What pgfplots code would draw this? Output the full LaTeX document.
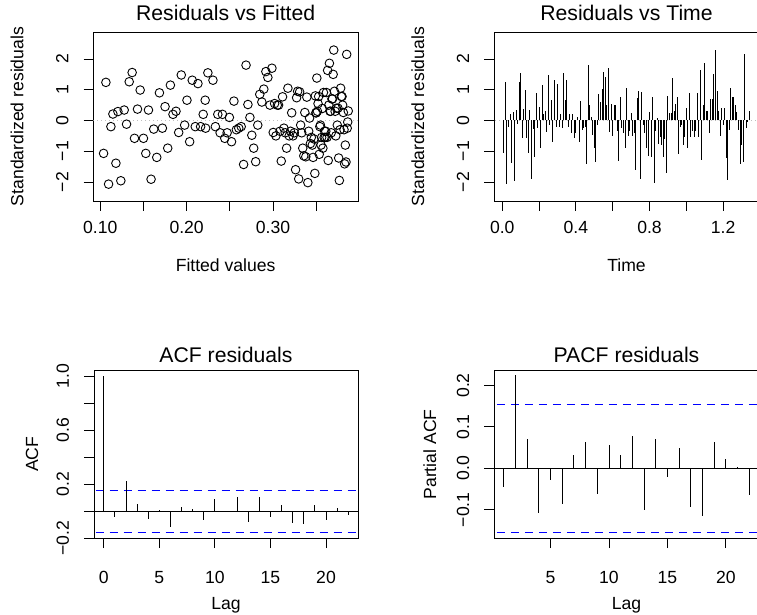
\documentclass[border=0pt]{standalone}
\usepackage{fontspec}
\setmainfont{Liberation Sans}
\usepackage{pgfplots}
\pgfplotsset{compat=1.18}
\usepackage{pgfplotstable}
\definecolor{rblue}{RGB}{0,0,255}
\definecolor{rgray}{RGB}{190,190,190}

\pgfplotstableread{
i fit res
1 0.1038 -1.07
2 0.1065 1.24
3 0.1096 -2.07
4 0.1123 -0.20
5 0.1146 0.21
6 0.1181 -1.39
7 0.1204 0.29
8 0.1238 -1.96
9 0.1277 0.34
10 0.1304 -0.12
11 0.1335 1.26
12 0.1369 1.56
13 0.1396 -0.58
14 0.1431 0.37
15 0.1462 0.99
16 0.1500 -0.58
17 0.1527 -1.07
18 0.1558 0.34
19 0.1588 -1.91
20 0.1619 -0.28
21 0.1654 -1.20
22 0.1685 0.90
23 0.1719 -0.25
24 0.1750 0.45
25 0.1781 -0.90
26 0.1812 1.15
27 0.1842 0.20
28 0.1877 0.30
29 0.1908 -0.39
30 0.1938 1.48
31 0.1977 -0.15
32 0.2004 0.66
33 0.2035 -0.69
34 0.2065 1.31
35 0.2100 -0.20
36 0.2131 1.20
37 0.2162 -0.20
38 0.2192 0.20
39 0.2220 -0.25
40 0.2246 1.55
41 0.2215 0.66
42 0.2305 1.31
43 0.2333 -0.20
44 0.2361 0.20
45 0.2388 -0.40
46 0.2415 0.20
47 0.2442 -0.58
48 0.2469 -0.40
49 0.2495 0.10
50 0.2520 -0.69
51 0.2548 0.63
52 0.2576 -0.30
53 0.2604 -0.25
54 0.2632 -0.20
55 0.2660 -1.43
56 0.2688 1.80
57 0.2710 0.52
58 0.2733 0.10
59 0.2755 -0.48
60 0.2777 -0.90
61 0.2800 -1.34
62 0.2824 -0.15
63 0.2847 0.85
64 0.2871 0.60
65 0.2894 1.02
66 0.2918 1.59
67 0.2941 1.40
68 0.2965 0.50
69 0.2988 1.70
70 0.3003 -0.39
71 0.3019 0.55
72 0.3034 -0.50
73 0.3050 0.50
74 0.3065 0.50
75 0.3081 -0.35
76 0.3096 -1.32
77 0.3111 0.77
78 0.3127 -0.25
79 0.3142 -0.40
80 0.3158 -0.90
81 0.3173 1.05
82 0.3188 -0.50
83 0.3203 -0.35
84 0.3217 0.25
85 0.3232 -0.50
86 0.3247 -0.40
87 0.3262 -1.60
88 0.3274 0.74
89 0.3286 0.95
90 0.3298 -1.90
91 0.3309 0.93
92 0.3321 -0.15
93 0.3333 -0.40
94 0.3345 -0.90
95 0.3357 -1.15
96 0.3369 0.26
97 0.3380 -1.18
98 0.3392 0.76
99 0.3404 -2.02
100 0.3414 -0.35
101 0.3424 0.08
102 0.3434 -0.75
103 0.3444 -0.55
104 0.3455 -0.80
105 0.3465 -1.20
106 0.3475 -0.60
107 0.3485 -1.72
108 0.3491 0.80
109 0.3497 0.25
110 0.3502 0.25
111 0.3508 1.38
112 0.3515 0.30
113 0.3522 0.55
114 0.3529 0.78
115 0.3536 -1.10
116 0.3543 -0.20
117 0.3550 -0.15
118 0.3557 -0.80
119 0.3564 -0.55
120 0.3571 0.39
121 0.3578 -0.90
122 0.3585 0.91
123 0.3592 -0.55
124 0.3599 -0.35
125 0.3605 -0.55
126 0.3612 -0.35
127 0.3619 0.91
128 0.3626 -0.55
129 0.3633 1.63
130 0.3640 -1.30
131 0.3647 0.50
132 0.3654 1.86
133 0.3661 0.30
134 0.3668 0.30
135 0.3675 -0.40
136 0.3683 0.70
137 0.3690 0.70
138 0.3697 1.50
139 0.3704 2.29
140 0.3712 0.95
141 0.3720 0.30
142 0.3728 -0.50
143 0.3736 0.40
144 0.3745 -0.15
145 0.3753 0.40
146 0.3761 -1.22
147 0.3769 -1.95
148 0.3777 -0.30
149 0.3784 1.05
150 0.3792 0.78
151 0.3800 0.78
152 0.3807 0.50
153 0.3815 0.26
154 0.3823 -0.30
155 0.3830 -1.41
156 0.3838 -0.80
157 0.3846 -1.35
158 0.3854 2.15
159 0.3860 -0.25
160 0.3866 -0.05
161 0.3872 0.31
}\resid

\pgfplotstableread{
lag acf
0 1.000
1 -0.044
2 0.227
3 0.057
4 -0.059
5 0.012
6 -0.114
7 0.030
8 0.017
9 -0.062
10 0.094
11 0.002
12 0.106
13 -0.081
14 0.106
15 -0.044
16 0.049
17 -0.086
18 -0.096
19 0.047
20 -0.067
21 0.025
22 -0.025
}\acftab

\pgfplotstableread{
lag pacf
1 -0.045
2 0.225
3 0.072
4 -0.109
5 -0.029
6 -0.085
7 0.033
8 0.063
9 -0.063
10 0.056
11 0.033
12 0.077
13 -0.100
14 0.072
15 -0.020
16 0.050
17 -0.094
18 -0.115
19 0.063
20 0.023
21 0.003
22 -0.064
}\pacftab

\pgfplotsset{
  rstyle/.style={
    scale only axis,
    axis line style={black, line width=0.9pt},
    tick style={black, line width=0.9pt},
    major tick length=9.6pt,
    tick align=outside,
    xtick pos=left, ytick pos=left,
    scaled x ticks=false, scaled y ticks=false,
    font=\fontsize{17.6}{21}\selectfont,
    xticklabel style={yshift=-23.4pt, anchor=base, inner sep=0pt},
    yticklabel style={xshift=-15.4pt, rotate=90, anchor=base, inner sep=0pt},
    title style={anchor=base, font=\fontsize{21.2}{25}\selectfont},
    xlabel style={anchor=base},
    ylabel style={anchor=base},
  }
}

\begin{document}
\begin{tikzpicture}
\useasboundingbox (0pt,0pt) rectangle (757pt,615pt);

% Residuals vs Fitted
\begin{axis}[rstyle,
  at={(93.3pt,414pt)}, anchor=south west, width=264.7pt, height=169pt,
  xmin=0.0919, xmax=0.3985, ymin=-2.618, ymax=2.878,
  xtick={0.10,0.15,0.20,0.25,0.30,0.35},
  xticklabels={0.10,,0.20,,0.30,},
  ytick={-2,-1,0,1,2},
  yticklabels={−2,−1,0,1,2},
  title={Residuals vs Fitted},
  title style={at={([yshift=5pt]axis description cs:0.5,1)}, anchor=base},
  xlabel={Fitted values},
  xlabel style={at={([yshift=-71pt]axis description cs:0.5,0)}},
  ylabel={Standardized residuals},
  ylabel style={at={([xshift=-70pt]axis description cs:0,0.5)}},
]
\addplot[rgray, dash pattern=on 1pt off 3pt, line width=0.9pt] coordinates {(0.05,0) (0.45,0)};
\addplot[only marks, mark=o, mark size=4.3pt, black, mark options={line width=0.9pt}] table[x=fit, y=res]{\resid};
\end{axis}

% Residuals vs Time
\begin{axis}[rstyle,
  at={(494pt,414pt)}, anchor=south west, width=265pt, height=169pt,
  xmin=-5.4, xmax=167.4, ymin=-2.618, ymax=2.878,
  xtick={0,24,48,72,96,120,144},
  xticklabels={0.0,,0.4,,0.8,,1.2},
  ytick={-2,-1,0,1,2},
  yticklabels={−2,−1,0,1,2},
  title={Residuals vs Time},
  title style={at={([yshift=5pt]axis description cs:0.5,1)}, anchor=base},
  xlabel={Time},
  xlabel style={at={([yshift=-71pt]axis description cs:0.5,0)}},
  ylabel={Standardized residuals},
  ylabel style={at={([xshift=-70pt]axis description cs:0,0.5)}},
]
\addplot[rgray, dash pattern=on 1pt off 3pt, line width=0.9pt] coordinates {(-10,0) (170,0)};
\addplot[ycomb, black, line width=0.9pt, mark=none] table[x=i, y=res]{\resid};
\end{axis}

% ACF residuals
\begin{axis}[rstyle,
  at={(94pt,76.5pt)}, anchor=south west, width=264pt, height=168.5pt,
  xmin=-0.88, xmax=22.88, ymin=-0.2016, ymax=1.046,
  xtick={0,5,10,15,20},
  xticklabels={0,5,10,15,20},
  ytick={-0.2,0,0.2,0.4,0.6,0.8,1.0},
  yticklabels={−0.2,,0.2,,0.6,,1.0},
  xticklabel style={yshift=-11.5pt},
  title={ACF residuals},
  title style={at={([yshift=1.7pt]axis description cs:0.5,1)}, anchor=base},
  xlabel={Lag},
  xlabel style={at={([yshift=-70.5pt]axis description cs:0.5,0)}},
  ylabel={ACF},
  ylabel style={at={([xshift=-56pt]axis description cs:0,0.5)}},
]
\addplot[black, line width=0.9pt] coordinates {(-2,0) (25,0)};
\addplot[rblue, dash pattern=on 8pt off 6pt, line width=0.9pt] coordinates {(-2,0.1545) (25,0.1545)};
\addplot[rblue, dash pattern=on 8pt off 6pt, line width=0.9pt] coordinates {(-2,-0.1545) (25,-0.1545)};
\addplot[ycomb, black, line width=0.9pt, mark=none] table[x=lag, y=acf]{\acftab};
\end{axis}

% PACF residuals
\begin{axis}[rstyle,
  at={(494pt,76.5pt)}, anchor=south west, width=265pt, height=168pt,
  xmin=0.16, xmax=22.84, ymin=-0.1695, ymax=0.2363,
  xtick={5,10,15,20},
  xticklabels={5,10,15,20},
  ytick={-0.1,0,0.1,0.2},
  yticklabels={−0.1,0.0,0.1,0.2},
  xticklabel style={yshift=-11.5pt},
  title={PACF residuals},
  title style={at={([yshift=1.7pt]axis description cs:0.5,1)}, anchor=base},
  xlabel={Lag},
  xlabel style={at={([yshift=-70.5pt]axis description cs:0.5,0)}},
  ylabel={Partial ACF},
  ylabel style={at={([xshift=-58pt]axis description cs:0,0.5)}},
]
\addplot[black, line width=0.9pt] coordinates {(-2,0) (25,0)};
\addplot[rblue, dash pattern=on 8pt off 6pt, line width=0.9pt] coordinates {(-2,0.1545) (25,0.1545)};
\addplot[rblue, dash pattern=on 8pt off 6pt, line width=0.9pt] coordinates {(-2,-0.1545) (25,-0.1545)};
\addplot[ycomb, black, line width=0.9pt, mark=none] table[x=lag, y=pacf]{\pacftab};
\end{axis}
\end{tikzpicture}
\end{document}
